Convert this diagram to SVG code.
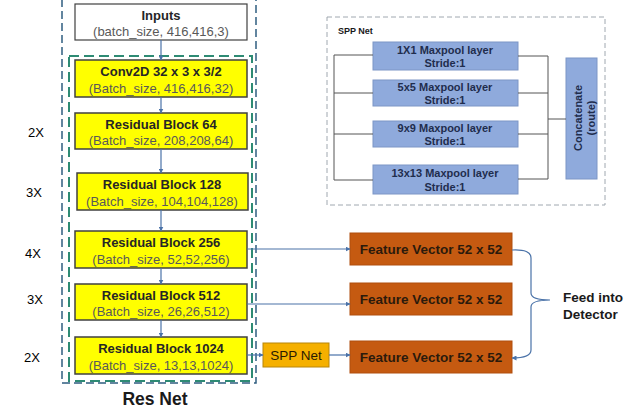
<svg xmlns="http://www.w3.org/2000/svg" width="636" height="416" viewBox="0 0 636 416">
<defs>
<style>
text{font-family:"Liberation Sans",Arial,sans-serif}
.blk{fill:#FFFF00;stroke:#404040;stroke-width:1.5}
.t{font-size:13px;font-weight:bold;fill:#262626;text-anchor:middle}
.s{font-size:13px;fill:#595959;text-anchor:middle}
.rep{font-size:13px;fill:#000;text-anchor:middle}
.fv{fill:#C55A11;stroke:#B04E0E;stroke-width:1}
.fvt{font-size:13.5px;font-weight:bold;fill:#2B1A0C;text-anchor:middle}
.mp{fill:#8FAADC;stroke:#7D96C6;stroke-width:1}
.mpt{font-size:11px;font-weight:bold;fill:#1F2D4D;text-anchor:middle}
.ln{fill:none;stroke:#555;stroke-width:1}
.ar{fill:none;stroke:#4A72A8;stroke-width:1.2;marker-end:url(#ah)}
</style>
<marker id="ah" viewBox="0 0 10 10" refX="9" refY="5" markerWidth="5" markerHeight="5" orient="auto" markerUnits="userSpaceOnUse">
<path d="M0,0 L10,5 L0,10 z" fill="#4A72A8"/>
</marker>
</defs>
<g id="resnet-frame">
<rect x="62" y="-5" width="194" height="388" fill="none" stroke="#2F5E80" stroke-width="1.5" stroke-dasharray="8,4"/>
<rect x="69" y="56" width="183" height="325" fill="none" stroke="#2E8B74" stroke-width="2" stroke-dasharray="10,5"/>
<text x="155" y="405" font-size="17.5" font-weight="bold" fill="#1a1a1a" text-anchor="middle">Res Net</text>
</g>
<g id="inputs">
<rect x="75" y="4" width="172" height="36" fill="#fff" stroke="#404040" stroke-width="1.2"/>
<text class="t" x="161" y="20">Inputs</text>
<text class="s" x="161" y="36">(batch_size, 416,416,3)</text>
</g>
<g id="conv2d">
<rect class="blk" x="75" y="60" width="172" height="37"/>
<text class="t" x="161" y="76">Conv2D 32 x 3 x 3/2</text>
<text class="s" x="161" y="93">(Batch_size, 416,416,32)</text>
</g>
<g id="rb64">
<rect class="blk" x="75" y="113" width="172" height="36"/>
<text class="t" x="161" y="129">Residual Block 64</text>
<text class="s" x="161" y="145">(Batch_size, 208,208,64)</text>
<text class="rep" x="36" y="137">2X</text>
</g>
<g id="rb128">
<rect class="blk" x="77" y="173" width="171" height="37"/>
<text class="t" x="162" y="189">Residual Block 128</text>
<text class="s" x="162" y="206">(Batch_size, 104,104,128)</text>
<text class="rep" x="34" y="197">3X</text>
</g>
<g id="rb256">
<rect class="blk" x="75" y="231" width="172" height="37"/>
<text class="t" x="161" y="247">Residual Block 256</text>
<text class="s" x="161" y="264">(Batch_size, 52,52,256)</text>
<text class="rep" x="33" y="258">4X</text>
</g>
<g id="rb512">
<rect class="blk" x="75" y="284" width="172" height="36"/>
<text class="t" x="161" y="300">Residual Block 512</text>
<text class="s" x="161" y="316">(Batch_size, 26,26,512)</text>
<text class="rep" x="35" y="304">3X</text>
</g>
<g id="rb1024">
<rect class="blk" x="75" y="337" width="172" height="37"/>
<text class="t" x="161" y="353">Residual Block 1024</text>
<text class="s" x="161" y="370">(Batch_size, 13,13,1024)</text>
<text class="rep" x="32" y="362">2X</text>
</g>
<g id="spp-small">
<rect x="263" y="343" width="66" height="24" fill="#F5B000" stroke="#B8860B" stroke-width="1"/>
<text x="296" y="360" font-size="13.5" fill="#2a1a00" text-anchor="middle">SPP Net</text>
</g>
<g id="fv1">
<rect class="fv" x="350" y="233" width="162" height="32"/>
<text class="fvt" x="431" y="254">Feature Vector 52 x 52</text>
</g>
<g id="fv2">
<rect class="fv" x="350" y="283" width="162" height="32"/>
<text class="fvt" x="431" y="304">Feature Vector 52 x 52</text>
</g>
<g id="fv3">
<rect class="fv" x="350" y="341" width="162" height="32"/>
<text class="fvt" x="431" y="362">Feature Vector 52 x 52</text>
</g>
<g id="detector-label">
<text x="563" y="302" font-size="13.5" font-weight="bold" fill="#1a1a1a">Feed into</text>
<text x="563" y="319" font-size="13.5" font-weight="bold" fill="#1a1a1a">Detector</text>
</g>
<g id="spp-detail">
<rect x="327" y="17" width="278" height="188" fill="none" stroke="#A0A8B0" stroke-width="1" stroke-dasharray="5,3"/>
<text x="338" y="34" font-size="9" font-weight="bold" fill="#1a1a1a">SPP Net</text>
<g id="mp1"><rect class="mp" x="373" y="42" width="145" height="28"/><text class="mpt" x="445" y="54">1X1 Maxpool layer</text><text class="mpt" x="445" y="67">Stride:1</text></g>
<g id="mp5"><rect class="mp" x="373" y="80" width="145" height="26"/><text class="mpt" x="445" y="91">5x5 Maxpool layer</text><text class="mpt" x="445" y="104">Stride:1</text></g>
<g id="mp9"><rect class="mp" x="373" y="121" width="145" height="26"/><text class="mpt" x="445" y="132">9x9 Maxpool layer</text><text class="mpt" x="445" y="145">Stride:1</text></g>
<g id="mp13"><rect class="mp" x="373" y="165" width="145" height="29"/><text class="mpt" x="445" y="177">13x13 Maxpool layer</text><text class="mpt" x="445" y="191">Stride:1</text></g>
<g id="concat"><rect class="mp" x="566" y="58" width="31" height="121"/>
<text class="mpt" transform="translate(584,118) rotate(-90)" y="-2">Concatenate</text>
<text class="mpt" transform="translate(584,118) rotate(-90)" y="11">(route)</text></g>
</g>
<g id="connectors">
<path class="ln" d="M373,55 H334 V180 H373 M334,93 H373 M334,134 H373"/>
<path class="ln" d="M518,56 H548 V179 H518 M518,93 H548 M518,134 H548 M548,119 H566"/>
<path class="ar" d="M161,40 V60"/>
<path class="ar" d="M161,97 V113"/>
<path class="ar" d="M161,149 V173"/>
<path class="ar" d="M161,210 V231"/>
<path class="ar" d="M161,268 V284"/>
<path class="ar" d="M161,320 V337"/>
<path class="ar" d="M247,249 H350"/>
<path class="ar" d="M247,304 H350"/>
<path class="ar" d="M247,355 H263"/>
<path class="ar" d="M329,355 H350"/>
<path fill="none" stroke="#4A72A8" stroke-width="1.2" d="M512,250 Q531,249 531,258 V293 Q531,300 550,300 Q531,300 531,307 V350"/>
<path class="ar" d="M531,350 Q531,358 512,358"/>
</g>
</svg>
